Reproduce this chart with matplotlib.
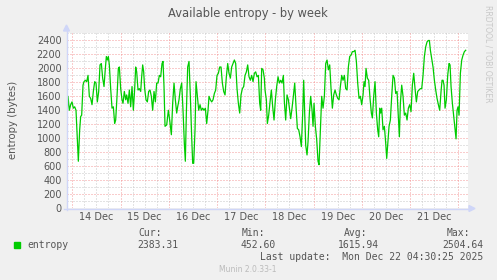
import matplotlib
matplotlib.use("Agg")
import matplotlib.pyplot as plt
import numpy as np
import pandas as pd

# hours after 14 Dec 2025 00:00, values in bytes
hours = [
    -2.80, -2.14, -1.48, -0.81, -0.15, 0.51, 1.18, 1.84, 2.50, 3.00, 3.66, 4.16,
    4.66, 5.32, 5.82, 6.48, 7.15, 7.81, 8.47, 9.14, 9.80, 10.46, 11.13, 11.79,
    12.45, 13.12, 13.78, 14.44, 15.10, 15.77, 16.43, 16.93, 17.43, 17.92, 18.42,
    19.08, 19.75, 20.41, 21.07, 21.57, 22.24, 22.90, 23.40, 24.06, 24.72, 25.22,
    25.88, 26.55, 27.04, 27.71, 28.37, 29.03, 29.70, 30.36, 31.02, 31.52, 32.02,
    32.68, 33.34, 34.01, 34.50, 35.00, 35.50, 35.99, 36.66, 37.32, 37.98, 38.65,
    39.31, 39.97, 40.64, 41.30, 41.96, 42.63, 43.29, 43.95, 44.62, 45.12, 45.61,
    46.11, 46.94, 47.77, 48.43, 49.26, 49.92, 50.59, 51.25, 51.91, 52.41, 53.07,
    53.74, 54.40, 55.06, 55.73, 56.22, 56.72, 57.38, 58.05, 58.71, 59.37, 59.87,
    60.37, 61.03, 61.53, 62.19, 62.86, 63.52, 64.18, 64.85, 65.51, 66.17, 66.84,
    67.50, 67.99, 68.66, 69.32, 69.98, 70.65, 71.31, 71.97, 72.64, 73.30, 73.96,
    74.63, 75.29, 75.95, 76.62, 77.28, 77.94, 78.61, 79.27, 79.93, 80.60, 81.26,
    81.92, 82.59, 83.25, 83.91, 84.58, 85.24, 85.90, 86.57, 87.23, 87.89, 88.56,
    89.22, 89.88, 90.55, 91.21, 91.87, 92.54, 93.20, 93.70, 94.19, 94.86, 95.52,
    95.85, 96.51, 97.01, 97.67, 98.34, 99.00, 99.66, 100.33, 100.99, 101.65,
    102.32, 102.98, 103.64, 104.31, 104.97, 105.47, 106.13, 106.79, 107.46,
    108.12, 108.62, 109.28, 109.94, 110.61, 111.27, 111.93, 112.60, 113.26,
    113.92, 114.59, 115.08, 115.58, 116.08, 116.74, 117.24, 117.90, 118.56,
    119.23, 119.73, 120.22, 120.89, 121.55, 122.21, 122.71, 123.37, 124.04,
    124.70, 125.36, 126.03, 126.69, 127.35, 128.02, 128.68, 129.34, 130.01,
    130.67, 131.33, 132.00, 132.66, 133.32, 133.99, 134.65, 135.31, 135.98,
    136.64, 137.30, 137.96, 138.63, 139.29, 139.95, 140.62, 141.28, 141.94,
    142.61, 143.27, 143.93, 144.60, 145.09, 145.59, 146.09, 146.75, 147.41,
    148.08, 148.74, 149.24, 149.90, 150.56, 151.23, 151.89, 152.39, 152.89,
    153.38, 153.88, 154.54, 155.21, 155.87, 156.37, 157.03, 157.53, 158.19,
    158.85, 159.52, 160.18, 160.84, 161.51, 162.17, 162.67, 163.16, 163.83,
    164.49, 165.15, 165.82, 166.48, 167.14, 167.81, 168.47, 169.13, 169.80,
    170.46, 171.12, 171.79, 172.45, 173.11, 173.78, 174.44, 175.10, 175.77,
    176.43, 177.09, 177.59, 178.09, 178.75, 179.41, 180.08, 180.74, 181.40,
    182.07, 182.73, 183.39, 183.89, 184.39, 184.88, 185.38, 186.04, 186.71,
    187.37, 187.87, 188.37, 189.03, 189.70, 190.36, 190.86, 191.35, 191.85,
    192.35, 193.01, 193.68, 194.34, 195.00, 195.67,
]
entropy = [
    1200, 1600, 1400, 1480, 1520, 1430, 1450, 1400, 980, 670, 1120, 1310,
    1330, 1760, 1810, 1830, 1810, 1900, 1600, 1570, 1480, 1670, 1810, 1790,
    1520, 1670, 2050, 2070, 1860, 1740, 2000, 2170, 2120, 2170, 2050,
    1710, 1430, 1450, 1210, 1260, 1600, 2000, 2020, 1710, 1550, 1500,
    1670, 1550, 1620, 1500, 1690, 1450, 1740, 1400, 1710, 2020, 1950,
    1690, 1710, 1670, 1880, 2050, 1950, 1710, 1550, 1520, 1670, 1690,
    1600, 1400, 1670, 1520, 1790, 1790, 1900, 1880, 2070, 2100, 1740,
    1170, 1190, 1400, 1260, 1050, 1500, 1790, 1550, 1360, 1450, 1550,
    1710, 1790, 1400, 920, 670, 1360, 2020, 2100, 1600, 1020, 640,
    640, 1120, 1810, 1600, 1400, 1480, 1400, 1430, 1400, 1430, 1210,
    1400, 1600, 1550, 1520, 1550, 1640, 1690, 1900, 1930, 2020, 2020,
    1790, 1670, 1620, 1880, 2070, 1930, 1860, 2020, 2070, 2120, 2070,
    1710, 1500, 1360, 1620, 1710, 1740, 1900, 1950, 2050, 1880, 1830,
    1900, 1810, 1930, 1950, 1880, 1900, 1500, 1400, 2000, 1980, 1860,
    1690, 1550, 1210, 1330, 1520, 1690, 1450, 1260, 1550, 1740,
    1880, 1790, 1830, 1790, 1900, 1520, 1260, 1620, 1550,
    1400, 1280, 1430, 1600, 1790, 1450, 1140, 1120, 1020,
    880, 1360, 1830, 1360, 900, 760, 950, 1360, 1600,
    1400, 1170, 1500, 1170, 980, 670, 620, 1120, 1600,
    1430, 1600, 2070, 2120, 1980, 2050, 1710, 1430, 1620,
    1690, 1620, 1570, 1550, 1740, 1900, 1830, 1900, 1710,
    1690, 2020, 2170, 2190, 2240, 2240, 2260, 2100, 1790,
    1570, 1600, 1480, 1620, 1810, 1740, 2000, 1860, 1830,
    1570, 1360, 1290, 1600, 1810, 1360, 1120, 1020, 1430,
    1360, 1430, 1120, 1170, 930, 710, 980, 1170, 1260,
    1600, 1900, 1860, 1640, 1670, 1310, 1020, 1500, 1760,
    1600, 1330, 1360, 1260, 1430, 1480, 1380, 1760, 1930,
    1710, 1520, 1670, 1690, 1710, 1710, 1900, 2170, 2310,
    2380, 2400, 2400, 2260, 2140, 2020, 1830, 1690, 1570,
    1480, 1400, 1670, 1830, 1830, 1760, 1430, 1550, 1900,
    2070, 2050, 1740, 1500, 1310, 1120, 990, 1400, 1450,
    1330, 1930, 2120, 2190, 2240, 2260,
]

day_labels = ["14 Dec", "15 Dec", "16 Dec", "17 Dec", "18 Dec", "19 Dec", "20 Dec", "21 Dec"]
stats_names = ["Cur:", "Min:", "Avg:", "Max:"]
stats_values = ["2383.31", "452.60", "1615.94", "2504.64"]

start = pd.Timestamp("2025-12-14 00:00")
t = start + pd.to_timedelta(np.array(hours), unit="h")
t_left = start - pd.Timedelta(hours=2.64)
t_right = start + pd.Timedelta(hours=196.8)

BG = "#F0F0F0"
FONT = "#555555"
AXISC = "#CFD6F8"
MINOR = "#C8C8C8"
MAJOR = "#F08080"

fig = plt.figure(figsize=(4.97, 2.8), dpi=100, facecolor=BG)
W, H = 497.0, 280.0
ax = fig.add_axes([67 / W, 1 - 208 / H, (468 - 67) / W, (208 - 33) / H])
ax.set_facecolor("white")

ax.set_xlim(t_left, t_right)
ax.set_ylim(0, 2507)

dot = (0, (1, 2))
# minor grid: every 6 h / every 100
for k in range(-1, 34):
    tt = start + pd.Timedelta(hours=6 * k)
    if t_left < tt < t_right and k % 4 != 0:
        ax.axvline(tt, color=MINOR, lw=0.72, ls=dot, zorder=1)
for v in range(100, 2600, 200):
    ax.axhline(v, color=MINOR, lw=0.72, ls=dot, zorder=1)
# major grid: midnight / every 200
for k in range(0, 9):
    ax.axvline(start + pd.Timedelta(days=k), color=MAJOR, lw=0.72, ls=dot, zorder=2, alpha=0.8)
for v in range(200, 2600, 200):
    ax.axhline(v, color=MAJOR, lw=0.72, ls=dot, zorder=2, alpha=0.8)

ax.plot(t, entropy, color="#00CC00", lw=0.9, zorder=3)

for s in ax.spines.values():
    s.set_visible(False)

ax.set_yticks(range(0, 2600, 200))
ax.set_yticklabels([str(v) for v in range(0, 2600, 200)])
noon = [start + pd.Timedelta(hours=12 + 24 * k) for k in range(8)]
ax.set_xticks(noon)
ax.set_xticklabels(day_labels)
ax.tick_params(axis="both", length=0, labelsize=7, colors=FONT, pad=4)
ax.tick_params(axis="x", pad=3)

# axes with arrows
fig.add_artist(plt.Line2D([66.5 / W, 66.5 / W], [1 - 210 / H, 1 - 30 / H], color=AXISC, lw=1))
fig.add_artist(plt.Line2D([64 / W, 470 / W], [1 - 208.5 / H, 1 - 208.5 / H], color=AXISC, lw=1))
fig.add_artist(plt.Polygon([[63.5 / W, 1 - 31 / H], [69.5 / W, 1 - 31 / H], [66.5 / W, 1 - 25 / H]],
                           closed=True, color=AXISC))
fig.add_artist(plt.Polygon([[469 / W, 1 - 205.5 / H], [469 / W, 1 - 211.5 / H], [475 / W, 1 - 208.5 / H]],
                           closed=True, color=AXISC))

fig.text(248 / W, 1 - 13 / H, "Available entropy - by week", ha="center", va="center",
         fontsize=8.3, color=FONT)
fig.text(13 / W, 1 - 120 / H, "entropy (bytes)", ha="center", va="center", rotation=90,
         fontsize=7.3, color=FONT)
fig.text(488 / W, 1 - 5 / H, "RRDTOOL / TOBI OETIKER", ha="center", va="top", rotation=270,
         fontsize=5.5, color="#C8C8C8")

mono = "DejaVu Sans Mono"
name_x = [162, 265, 367, 470]
val_x = [178, 276, 379, 483]
for nm, vl, nx, vx in zip(stats_names, stats_values, name_x, val_x):
    fig.text(nx / W, 1 - 233.5 / H, nm, ha="right", va="center", fontsize=7, family=mono, color=FONT)
    fig.text(vx / W, 1 - 245.5 / H, vl, ha="right", va="center", fontsize=7, family=mono, color=FONT)

fig.add_artist(plt.Rectangle((14 / W, 1 - 248 / H), 6 / W, 6 / H, color="#00CC00"))
fig.text(27 / W, 1 - 245.5 / H, "entropy", ha="left", va="center", fontsize=7, family=mono, color=FONT)
fig.text(483 / W, 1 - 257.5 / H, "Last update:  Mon Dec 22 04:30:25 2025", ha="right", va="center",
         fontsize=7, family=mono, color=FONT)
fig.text(248 / W, 1 - 269.5 / H, "Munin 2.0.33-1", ha="center", va="center", fontsize=5.5, color="#BBBBBB")

fig.savefig("out.png", dpi=100, facecolor=BG)
